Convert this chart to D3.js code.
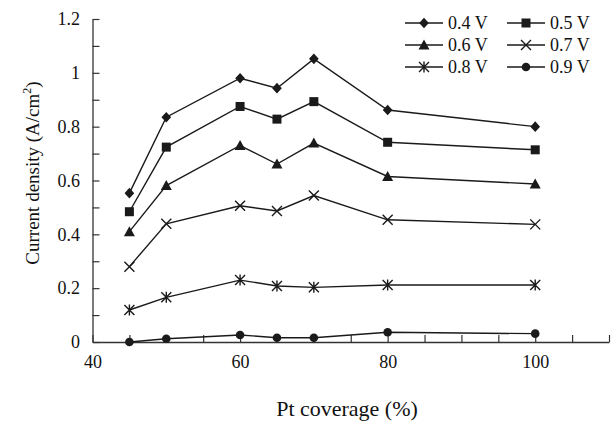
<!DOCTYPE html>
<html><head><meta charset="utf-8">
<script src="https://cdn.jsdelivr.net/npm/d3@7"></script>
</head><body style="margin:0;background:#fff">
<svg id="c" width="616" height="423" style="display:block;font-family:'Liberation Serif', serif"></svg>
<script>
const coverage = [45, 50, 60, 65, 70, 80, 100];
const seriesNames = ["0.4 V", "0.5 V", "0.6 V", "0.7 V", "0.8 V", "0.9 V"];
const v04 = [0.553, 0.835, 0.980, 0.943, 1.052, 0.862, 0.800];
const v05 = [0.484, 0.724, 0.875, 0.828, 0.893, 0.742, 0.714];
const v06 = [0.410, 0.581, 0.730, 0.661, 0.739, 0.615, 0.587];
const v07 = [0.280, 0.439, 0.506, 0.487, 0.544, 0.454, 0.437];
const v08 = [0.119, 0.166, 0.230, 0.208, 0.203, 0.212, 0.212];
const v09 = [0.000, 0.012, 0.026, 0.016, 0.016, 0.036, 0.031];
const yTickLabels = ["0", "0.2", "0.4", "0.6", "0.8", "1", "1.2"];
const xTickLabels = ["40", "60", "80", "100"];
const markerTypes = ["diamond", "square", "triangle", "cross", "asterisk", "circle"];

const FONT = "'Liberation Serif', serif";
const allSeries = [v04, v05, v06, v07, v08, v09];
const svg = d3.select("#c");
const col = "#1a1a1a";
const x = d3.scaleLinear().domain([40, 110]).range([92.5, 609]);
const y = d3.scaleLinear().domain([0, 1.2]).range([342, 19]);

// axes
const xAxis = d3.axisBottom(x).tickValues(d3.range(40, 111, 5)).tickSizeInner(-7).tickSizeOuter(0)
  .tickFormat(d => xTickLabels.includes(String(d)) ? String(d) : "");
const gx = svg.append("g").attr("transform", "translate(0,342)").call(xAxis);
gx.attr("font-family", null).attr("font-size", null);
gx.select(".domain").attr("stroke", "#333").attr("stroke-width", 1.3);
gx.selectAll(".tick line").attr("stroke", "#333").attr("stroke-width", 1.2);
gx.selectAll(".tick text").attr("y", 13).attr("dy", "0.71em").attr("fill", "#111")
  .style("font-family", FONT).style("font-size", "18px");

const yAxis = d3.axisLeft(y).tickValues(d3.range(0, 1.21, 0.1).map(d => +d.toFixed(1))).tickSizeInner(-7).tickSizeOuter(0)
  .tickFormat(d => { const s = String(+d.toFixed(1)); return yTickLabels.includes(s) ? s : ""; });
const gy = svg.append("g").attr("transform", "translate(92.5,0)").call(yAxis);
gy.attr("font-family", null).attr("font-size", null);
gy.select(".domain").attr("stroke", "#333").attr("stroke-width", 1.3);
gy.selectAll(".tick line").attr("stroke", "#333").attr("stroke-width", 1.2);
gy.selectAll(".tick text").attr("x", -12.5).attr("fill", "#111")
  .style("font-family", FONT).style("font-size", "18px");

// axis titles
svg.append("text").attr("x", 347).attr("y", 416).attr("text-anchor", "middle").attr("fill", "#111")
  .style("font-family", FONT).style("font-size", "22px").text("Pt coverage (%)");
const yt = svg.append("text").attr("transform", "translate(39,173) rotate(-90)").attr("text-anchor", "middle").attr("fill", "#111")
  .style("font-family", FONT).style("font-size", "19px");
yt.append("tspan").text("Current density (A/cm");
yt.append("tspan").attr("dy", -8).style("font-size", "12px").text("2");
yt.append("tspan").attr("dy", 8).text(")");

function marker(g, type, cx, cy) {
  if (type === "diamond") {
    g.append("path").attr("d", d3.symbol(d3.symbolDiamond2, 60)()).attr("transform", `translate(${cx},${cy}) scale(1,1.1)`).attr("fill", col);
  } else if (type === "square") {
    g.append("rect").attr("x", cx - 4.5).attr("y", cy - 4.5).attr("width", 9).attr("height", 9).attr("fill", col);
  } else if (type === "triangle") {
    g.append("path").attr("d", `M${cx},${cy - 5.5}L${cx + 5.5},${cy + 4.5}L${cx - 5.5},${cy + 4.5}Z`).attr("fill", col);
  } else if (type === "cross") {
    g.append("path").attr("d", `M${cx - 5},${cy - 5}L${cx + 5},${cy + 5}M${cx - 5},${cy + 5}L${cx + 5},${cy - 5}`).attr("stroke", col).attr("stroke-width", 1.4);
  } else if (type === "asterisk") {
    g.append("path").attr("d", `M${cx - 5},${cy - 5}L${cx + 5},${cy + 5}M${cx - 5},${cy + 5}L${cx + 5},${cy - 5}M${cx},${cy - 5.5}L${cx},${cy + 5.5}`).attr("stroke", col).attr("stroke-width", 1.4);
  } else {
    g.append("circle").attr("cx", cx).attr("cy", cy).attr("r", 4.3).attr("fill", col);
  }
}

const line = d3.line().x((d, i) => x(coverage[i])).y(d => y(d));
allSeries.forEach((vals, si) => {
  const g = svg.append("g");
  g.append("path").attr("d", line(vals)).attr("fill", "none").attr("stroke", col).attr("stroke-width", 1.4);
  vals.forEach((v, i) => marker(g, markerTypes[si], x(coverage[i]), y(v)));
});

// legend
const legX = [405, 507], legY = [23, 45, 67];
seriesNames.forEach((name, i) => {
  const cx = legX[i % 2], cy = legY[Math.floor(i / 2)];
  const g = svg.append("g");
  g.append("line").attr("x1", cx).attr("x2", cx + 38).attr("y1", cy).attr("y2", cy).attr("stroke", col).attr("stroke-width", 1.4);
  marker(g, markerTypes[i], cx + 19, cy);
  g.append("text").attr("x", cx + 43).attr("y", cy).attr("dy", "0.35em").attr("fill", "#111")
    .style("font-family", FONT).style("font-size", "18px").text(name);
});
</script>
</body></html>
